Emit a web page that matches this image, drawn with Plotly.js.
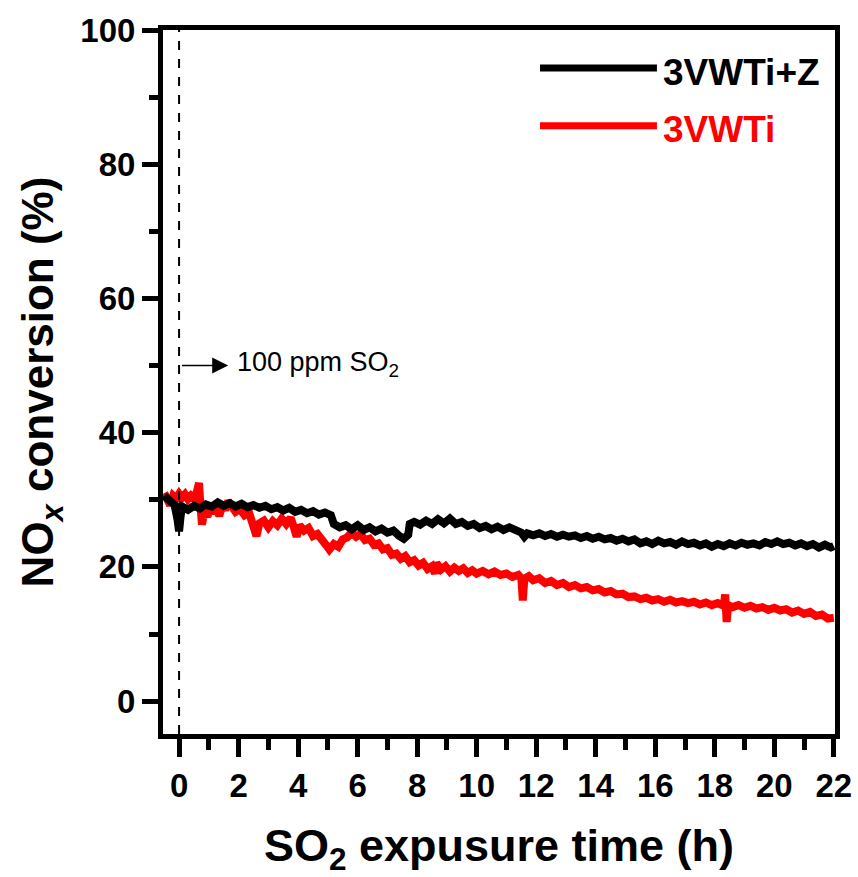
<!DOCTYPE html>
<html>
<head>
<meta charset="utf-8">
<script src="https://cdn.plot.ly/plotly-3.0.1.min.js"></script>
<style>html,body{margin:0;padding:0;background:#fff;}#chart{width:858px;height:877px;}</style>
</head>
<body>
<div id="chart"></div>
<script>
// 3VWTi+Z (black)
var timeZ = [-0.5,-0.3,-0.15,-0.05,0,0.05,0.1,0.3,0.5,0.7,0.9,1.1,1.3,1.5,1.7,1.9,2.1,2.3,2.5,2.7,2.9,3.1,3.3,3.5,3.7,3.9,4.1,4.3,4.5,4.7,4.9,5.1,5.2,5.4,5.6,5.8,6,6.2,6.4,6.6,6.8,7,7.2,7.4,7.55,7.7,7.75,7.9,8.1,8.3,8.5,8.7,8.9,9.1,9.3,9.5,9.7,9.9,10.1,10.3,10.5,10.7,10.9,11.1,11.3,11.5,11.6,11.7,11.9,12.1,12.3,12.5,12.7,12.9,13.1,13.3,13.5,13.7,13.9,14.1,14.3,14.5,14.7,14.9,15.1,15.3,15.5,15.7,15.9,16.1,16.3,16.5,16.7,16.9,17.1,17.3,17.5,17.7,17.9,18.1,18.3,18.5,18.7,18.9,19.1,19.3,19.5,19.7,19.9,20.1,20.3,20.5,20.7,20.9,21.1,21.3,21.5,21.7,21.9,22];
var convZ = [30.6,29.8,29.2,27.0,25.3,27.5,29.0,28.5,29.1,28.7,29.3,29.0,29.6,29.1,29.5,29.0,29.4,28.9,29.2,28.8,29.1,28.6,28.9,28.4,28.8,28.2,28.5,28.0,28.3,27.8,28.1,27.7,26.4,25.9,26.2,25.6,26.2,25.5,25.9,25.3,25.7,25.1,25.4,24.6,24.2,24.8,26.4,26.7,26.3,26.9,26.4,27.1,26.5,27.2,26.4,26.7,26.1,26.4,25.8,26.1,25.6,26.0,25.5,25.9,25.6,25.1,24.5,25.0,24.7,25.0,24.6,24.9,24.5,24.8,24.5,24.7,24.3,24.6,24.2,24.5,24.1,24.3,23.9,24.2,23.8,24.1,23.5,23.8,23.4,23.9,23.5,23.7,23.3,23.8,23.4,23.6,23.2,23.5,23.0,23.4,23.1,23.5,23.2,23.6,23.3,23.5,23.2,23.7,23.4,23.8,23.4,23.6,23.2,23.5,23.1,23.4,22.9,23.3,22.9,23.1];
// 3VWTi (red)
var timeV = [-0.5,-0.4,-0.3,-0.2,-0.1,0,0.1,0.2,0.3,0.4,0.5,0.6,0.67,0.72,0.77,0.85,0.95,1.05,1.15,1.25,1.35,1.45,1.55,1.65,1.75,1.9,2.05,2.2,2.35,2.45,2.55,2.6,2.7,2.85,3,3.15,3.3,3.45,3.6,3.75,3.85,3.95,4.05,4.2,4.35,4.5,4.65,4.8,4.95,5.05,5.2,5.35,5.5,5.65,5.8,5.95,6.1,6.25,6.4,6.55,6.7,6.85,7,7.15,7.3,7.45,7.6,7.75,7.9,8.05,8.2,8.35,8.5,8.6,8.65,8.8,8.95,9.1,9.25,9.4,9.55,9.7,9.85,10,10.2,10.4,10.6,10.8,11,11.2,11.4,11.5,11.55,11.6,11.75,11.9,12.1,12.3,12.5,12.7,12.9,13.1,13.3,13.5,13.7,13.9,14.1,14.3,14.5,14.7,14.9,15.1,15.3,15.5,15.7,15.9,16.1,16.3,16.5,16.7,16.9,17.1,17.3,17.5,17.7,17.9,18.1,18.3,18.35,18.4,18.45,18.6,18.8,19,19.2,19.4,19.6,19.8,20,20.2,20.4,20.6,20.8,21,21.2,21.4,21.6,21.8,22];
var convV = [31.0,30.0,29.2,30.6,30.2,30.9,30.3,30.8,30.1,30.6,30.2,31.2,32.5,29.0,26.3,28.2,27.5,29.1,28.0,28.8,27.6,29.2,28.5,29.8,28.9,28.2,28.6,27.7,28.1,26.9,26.0,24.6,26.5,26.9,25.9,26.8,26.2,27.2,26.4,27.3,26.0,24.5,26.2,25.4,25.8,24.6,24.9,23.8,23.2,22.6,23.4,23.0,24.1,24.4,25.1,24.5,24.9,24.0,24.2,23.3,23.5,22.6,22.8,21.8,22.0,21.2,21.6,20.7,21.0,20.2,20.6,19.7,20.1,19.0,20.6,19.6,20.1,19.3,19.9,19.4,19.8,19.1,19.5,19.0,19.4,18.9,19.3,18.8,19.0,18.5,18.8,18.3,15.0,18.2,18.6,18.0,18.3,17.6,17.9,17.3,17.6,17.0,17.3,16.8,17.0,16.5,16.7,16.2,16.4,15.9,16.0,15.5,15.6,15.2,15.4,15.0,15.2,14.8,15.1,14.7,14.9,14.6,14.8,14.4,14.7,14.3,14.6,14.2,15.9,11.8,14.3,14.0,14.3,13.9,14.2,13.8,14.0,13.6,13.9,13.5,13.7,13.2,13.5,13.0,13.3,12.7,12.9,12.3,12.4];

var seriesNames = ['3VWTi+Z', '3VWTi'];
var seriesColors = ['#000000', '#ff0000'];
var xTickVals = [0,2,4,6,8,10,12,14,16,18,20,22];
var yTickVals = [0,20,40,60,80,100];

var FONT = 'Arial, "Liberation Sans", sans-serif';

var traces = [
  {x: timeV, y: convV, mode: 'lines', name: seriesNames[1],
   line: {color: seriesColors[1], width: 8}, showlegend: false},
  {x: timeZ, y: convZ, mode: 'lines', name: seriesNames[0],
   line: {color: seriesColors[0], width: 8}, showlegend: false}
];

var axisCommon = {
  showgrid: false, zeroline: false, showline: true, linecolor: '#000', linewidth: 5,
  mirror: true, ticks: 'outside', tickcolor: '#000', tickwidth: 5,
  tickfont: {family: FONT, size: 33, color: '#000', weight: 'bold'}
};

var layout = {
  width: 858, height: 877,
  margin: {l: 163, r: 23, t: 30, b: 143},
  paper_bgcolor: '#fff', plot_bgcolor: '#fff',
  xaxis: Object.assign({}, axisCommon, {
    range: [-0.54, 22.04], tickmode: 'array', tickvals: xTickVals, ticklen: 18,
    minor: {dtick: 1, tick0: 0, ticks: 'outside', ticklen: 11, tickwidth: 5, tickcolor: '#000', showgrid: false},
    title: {text: 'SO<sub>2</sub> expusure time (h)', standoff: 28,
            font: {family: FONT, size: 45, color: '#000', weight: 'bold'}}
  }),
  yaxis: Object.assign({}, axisCommon, {
    range: [-4.9, 100], tickmode: 'array', tickvals: yTickVals, ticklen: 16,
    minor: {dtick: 10, tick0: 0, ticks: 'outside', ticklen: 9, tickwidth: 5, tickcolor: '#000', showgrid: false},
    title: {text: 'NO<sub><i>x</i></sub> conversion (%)', standoff: 14,
            font: {family: FONT, size: 44, color: '#000', weight: 'bold'}}
  }),
  shapes: [
    {type: 'line', xref: 'x', yref: 'paper', x0: 0, x1: 0, y0: 0, y1: 1,
     line: {color: '#000', width: 2, dash: 'dash'}},
    {type: 'line', xref: 'paper', yref: 'paper', x0: 0.561, x1: 0.735, y0: 0.946, y1: 0.946,
     line: {color: seriesColors[0], width: 7}},
    {type: 'line', xref: 'paper', yref: 'paper', x0: 0.561, x1: 0.735, y0: 0.864, y1: 0.864,
     line: {color: seriesColors[1], width: 7}}
  ],
  annotations: [
    {xref: 'paper', yref: 'paper', x: 0.741, y: 0.940, xanchor: 'left', yanchor: 'middle',
     text: seriesNames[0], showarrow: false,
     font: {family: FONT, size: 37, color: seriesColors[0], weight: 'bold'}},
    {xref: 'paper', yref: 'paper', x: 0.741, y: 0.858, xanchor: 'left', yanchor: 'middle',
     text: seriesNames[1], showarrow: false,
     font: {family: FONT, size: 37, color: seriesColors[1], weight: 'bold'}},
    {xref: 'x', yref: 'y', x: 1.65, y: 50, axref: 'x', ayref: 'y', ax: 0.05, ay: 50,
     text: '', showarrow: true, arrowhead: 2, arrowsize: 2, arrowwidth: 1.6, arrowcolor: '#000'},
    {xref: 'x', yref: 'y', x: 1.88, y: 50.2, xanchor: 'left', yanchor: 'middle',
     text: '100 ppm SO<sub>2</sub>', showarrow: false,
     font: {family: FONT, size: 27, color: '#000'}}
  ]
};

Plotly.newPlot('chart', traces, layout, {displayModeBar: false, staticPlot: true});
</script>
</body>
</html>
